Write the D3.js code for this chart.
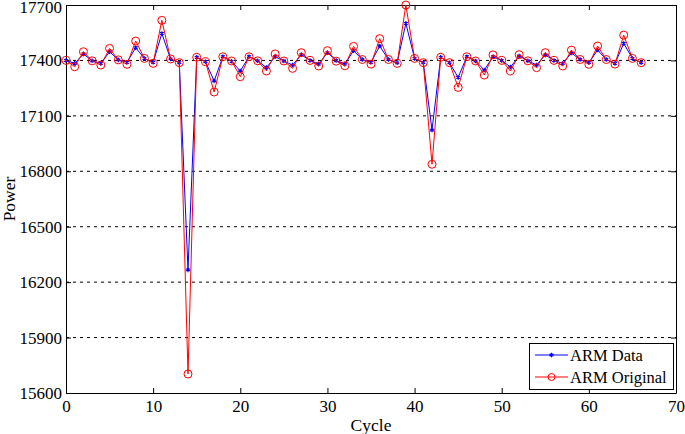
<!DOCTYPE html>
<html><head><meta charset="utf-8">
<script src="https://cdn.jsdelivr.net/npm/d3@7"></script>
<style>body{margin:0;background:#fff}svg text{font-family:"Liberation Serif","Times New Roman",serif}</style>
</head><body>
<script>
const cycles = d3.range(0, 67);
const armData = [17400,17384,17435,17398,17384,17447,17403,17390,17469,17411,17390,17546,17408,17388,16266,17417,17393,17289,
17420,17395,17343,17420,17398,17361,17420,17397,17375,17431,17400,17380,17442,17400,17380,17453,17405,
17390,17478,17405,17387,17601,17411,17388,17023,17417,17388,17308,17420,17397,17348,17420,17400,17364,17424,
17398,17375,17430,17400,17384,17440,17405,17388,17456,17405,17384,17492,17411,17388];
const armOriginal = [17400,17366,17447,17398,17375,17465,17403,17379,17505,17411,17384,17617,17408,17388,15703,17417,17393,17229,
17420,17397,17312,17420,17398,17343,17435,17397,17357,17442,17400,17370,17453,17396,17371,17476,17405,
17380,17518,17405,17384,17700,17411,17388,16838,17417,17388,17254,17420,17397,17321,17430,17400,17343,17431,
17398,17361,17442,17400,17370,17456,17405,17379,17478,17405,17380,17537,17411,17388];
const xTicks = [0,10,20,30,40,50,60,70];
const yTicks = [15600,15900,16200,16500,16800,17100,17400,17700];
const seriesNames = ["ARM Data","ARM Original"];

const W=685,H=434, L=66,R=676,T=5,B=393;
const svg=d3.select("body").append("svg").attr("width",W).attr("height",H);
const x=d3.scaleLinear().domain([0,70]).range([L,R]);
const y=d3.scaleLinear().domain([15600,17700]).range([B,T]);
const fs=17;

// grid
svg.append("g").selectAll("line").data(yTicks.filter(v=>v>15600&&v<17700)).join("line")
 .attr("x1",L).attr("x2",R).attr("y1",d=>y(d)).attr("y2",d=>y(d))
 .attr("stroke","#000").attr("stroke-width",1).attr("stroke-dasharray","3,4");

// axes
const ax=(gen,tr)=>svg.append("g").attr("transform",tr).call(gen);
const styleAxis=g=>{g.select(".domain").attr("stroke","#000");g.selectAll("text").attr("font-size",fs).attr("fill","#000").style("font-family","Liberation Serif");};
ax(d3.axisBottom(x).tickValues(xTicks).tickSizeInner(-5).tickSizeOuter(0).tickPadding(7).tickFormat(d3.format("d")),`translate(0,${B})`).call(styleAxis);
ax(d3.axisTop(x).tickValues(xTicks).tickSizeInner(-5).tickSizeOuter(0).tickFormat(""),`translate(0,${T})`).call(styleAxis);
const yl=ax(d3.axisLeft(y).tickValues(yTicks).tickSizeInner(-5).tickSizeOuter(0).tickPadding(4).tickFormat(d3.format("d")),`translate(${L},0)`).call(styleAxis);
yl.selectAll(".tick text").filter(d=>d===17700).attr("dy","0.45em");
ax(d3.axisRight(y).tickValues(yTicks).tickSizeInner(-5).tickSizeOuter(0).tickFormat(""),`translate(${R},0)`).call(styleAxis);

// labels
svg.append("text").attr("x",(L+R)/2).attr("y",431).attr("text-anchor","middle").attr("font-size",17.5).text("Cycle");
svg.append("text").attr("transform",`translate(15,${(T+B)/2}) rotate(-90)`).attr("text-anchor","middle").attr("font-size",17.5).text("Power");

const line=d3.line().x((d,i)=>x(cycles[i])).y(d=>y(d));
// blue
svg.append("path").datum(armData).attr("d",line).attr("fill","none").attr("stroke","#0000ff").attr("stroke-width",1);
const star=d3.symbol().type(d3.symbolAsterisk||d3.symbolCross).size(14);
svg.append("g").selectAll("path").data(armData).join("path")
 .attr("transform",(d,i)=>`translate(${x(cycles[i])},${y(d)})`).attr("d",star)
 .attr("fill","#0000ff").attr("stroke","#0000ff").attr("stroke-width",1.2);
// red
svg.append("path").datum(armOriginal).attr("d",line).attr("fill","none").attr("stroke","#ff0000").attr("stroke-width",1);
svg.append("g").selectAll("circle").data(armOriginal).join("circle")
 .attr("cx",(d,i)=>x(cycles[i])).attr("cy",d=>y(d)).attr("r",4)
 .attr("fill","none").attr("stroke","#ff0000").attr("stroke-width",1);

// legend
const lg=svg.append("g");
lg.append("rect").attr("x",529.5).attr("y",343.5).attr("width",144).attr("height",46).attr("fill","#fff").attr("stroke","#000");
[0,1].forEach(k=>{
  const yy=[355,377][k], col=["#0000ff","#ff0000"][k];
  lg.append("line").attr("x1",535).attr("x2",568).attr("y1",yy).attr("y2",yy).attr("stroke",col);
  if(k===0) lg.append("path").attr("transform",`translate(551.5,${yy})`).attr("d",star).attr("fill",col).attr("stroke",col).attr("stroke-width",1.2);
  else lg.append("circle").attr("cx",551.5).attr("cy",yy).attr("r",3.5).attr("fill","none").attr("stroke",col);
  lg.append("text").attr("x",570).attr("y",yy+6).attr("font-size",16.5).text(seriesNames[k]);
});
</script>
</body></html>
